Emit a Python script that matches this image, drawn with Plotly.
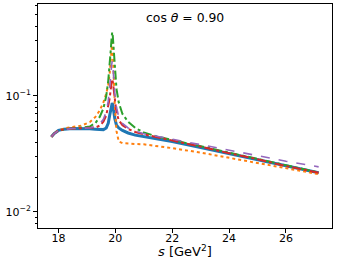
import plotly.graph_objects as go

s_vals = [17.75, 17.85, 18.0, 18.2, 18.5, 18.8, 19.1, 19.3, 19.45, 19.58, 19.68, 19.75, 19.8, 19.84,
          19.87, 19.89, 19.91, 19.94, 19.98, 20.04, 20.12, 20.25, 20.45, 20.7, 21.0, 21.5, 22.0,
          23.0, 24.0, 25.0, 26.0, 27.15]

blue = [0.0445, 0.0475, 0.0505, 0.0518, 0.0525, 0.0526, 0.0522, 0.0518, 0.0515, 0.0513, 0.0530,
        0.0580, 0.0680, 0.0780, 0.0850, 0.0870, 0.0840, 0.0740, 0.0640, 0.0560, 0.0530, 0.0505,
        0.0480, 0.0460, 0.0448, 0.0428, 0.0405, 0.0360, 0.0318, 0.0283, 0.0248, 0.0218]
orange = [0.0445, 0.0478, 0.0505, 0.0525, 0.0540, 0.0555, 0.0595, 0.0660, 0.0750, 0.0880, 0.1050,
          0.1250, 0.1550, 0.2000, 0.2550, 0.2900, 0.2500, 0.1500, 0.0850, 0.0500, 0.0405, 0.0392,
          0.0388, 0.0386, 0.0383, 0.0370, 0.0355, 0.0325, 0.0294, 0.0266, 0.0238, 0.0212]
green = [0.0445, 0.0476, 0.0502, 0.0515, 0.0525, 0.0532, 0.0545, 0.0585, 0.0660, 0.0780, 0.1000,
         0.1350, 0.1800, 0.2500, 0.3200, 0.3550, 0.3300, 0.2500, 0.1650, 0.1150, 0.0880, 0.0700,
         0.0600, 0.0530, 0.0485, 0.0445, 0.0418, 0.0368, 0.0323, 0.0286, 0.0251, 0.0219]
red = [0.0445, 0.0475, 0.0503, 0.0516, 0.0524, 0.0527, 0.0528, 0.0535, 0.0555, 0.0600, 0.0680,
       0.0800, 0.0950, 0.1150, 0.1330, 0.1400, 0.1330, 0.1150, 0.0900, 0.0720, 0.0620, 0.0560,
       0.0520, 0.0490, 0.0467, 0.0440, 0.0415, 0.0366, 0.0321, 0.0285, 0.0249, 0.0218]
purple = [0.0445, 0.0475, 0.0503, 0.0516, 0.0524, 0.0527, 0.0530, 0.0545, 0.0575, 0.0630, 0.0730,
          0.0900, 0.1150, 0.1500, 0.1850, 0.2000, 0.1850, 0.1450, 0.1050, 0.0800, 0.0660, 0.0580,
          0.0530, 0.0497, 0.0473, 0.0448, 0.0425, 0.0382, 0.0341, 0.0306, 0.0274, 0.0245]

x_ticks = [18, 20, 22, 24, 26]
y_major = [0.01, 0.1]
y_major_text = ["10<sup>−2</sup>", "10<sup>−1</sup>"]
y_minor = [0.008, 0.009, 0.02, 0.03, 0.04, 0.05, 0.06, 0.07, 0.08, 0.09, 0.2, 0.3, 0.4, 0.5, 0.6]

series = [
    (blue, "#1f77b4", "solid", 3.0),
    (orange, "#ff7f0e", "dot", 2.0),
    (green, "#2ca02c", "dashdot", 2.0),
    (red, "#d62728", "dashdot", 2.0),
    (purple, "#9467bd", "dash", 1.6),
]

fig = go.Figure()
for vals, col, dash, w in series:
    fig.add_trace(go.Scatter(x=s_vals, y=vals, mode="lines",
                             line=dict(color=col, dash=dash, width=w), showlegend=False))

fig.add_trace(go.Scatter(x=[s_vals[0]], y=[blue[0]], yaxis="y2", mode="markers",
                         marker=dict(opacity=0), showlegend=False, hoverinfo="skip"))

font = dict(family="DejaVu Sans", size=11, color="black")
yr = [-2.138, -0.207]
fig.update_layout(
    width=337, height=265,
    margin=dict(l=38, r=5, t=4, b=37),
    paper_bgcolor="white", plot_bgcolor="white",
    font=font,
    xaxis=dict(range=[17.28, 27.62], tickvals=x_ticks, ticks="outside", ticklen=4,
               tickcolor="black", showgrid=False, zeroline=False, showline=True,
               linecolor="black", linewidth=1, mirror=True, ticklabelstandoff=-4),
    yaxis=dict(type="log", range=yr, tickvals=y_major, ticktext=y_major_text,
               ticks="outside", ticklen=4, tickcolor="black", showgrid=False, zeroline=False,
               showline=True, linecolor="black", linewidth=1, mirror=True),
    yaxis2=dict(type="log", range=yr, overlaying="y", side="left", tickvals=y_minor,
                showticklabels=False, ticks="outside", ticklen=2, tickcolor="black",
                showgrid=False, zeroline=False, showline=False),
    annotations=[
        dict(text="cos <i>θ</i> = 0.90", x=0.5, y=0.98, xref="paper", yref="paper",
             xanchor="center", yanchor="top", showarrow=False,
             font=dict(size=12.4, family="DejaVu Sans")),
        dict(text="<i>s</i> [GeV<sup>2</sup>]", x=0.5, y=-0.103, xref="paper", yref="paper",
             xanchor="center", yanchor="middle", showarrow=False,
             font=dict(size=13, family="DejaVu Sans")),
    ],
)

fig.write_html("out.html", post_script="document.body.style.margin='0';",
               config={"displayModeBar": False})
